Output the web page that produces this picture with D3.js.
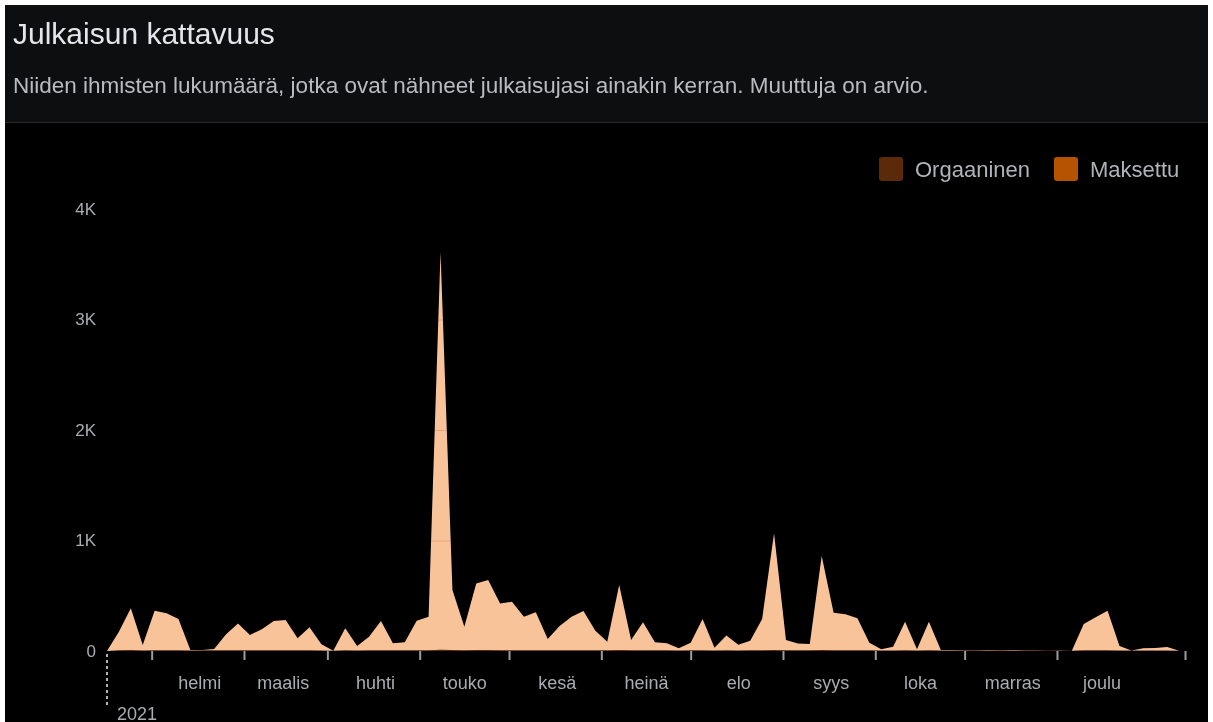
<!DOCTYPE html>
<html>
<head>
<meta charset="utf-8">
<script src="https://cdn.jsdelivr.net/npm/d3@7"></script>
<style>
  html, body { margin: 0; padding: 0; background: #fff; }
  svg { display: block; font-family: "Liberation Sans", Arial, sans-serif; }
</style>
</head>
<body>
<div id="chart"></div>
<script>
// data (4-day buckets through 2021)
var startDate = new Date(2021, 0, 1);
var endDate = new Date(2021, 11, 29);

var organic = [0,6,8,5,7,6,6,5,6,6,6,7,6,6,7,7,6,6,5,3,
  6,5,6,7,6,6,7,7,12,8,6,8,8,7,7,6,7,6,6,7,
  7,6,6,8,6,6,6,6,5,6,6,5,6,5,6,6,9,6,6,6,
  8,7,7,6,6,5,5,6,5,6,5,5,4,5,5,6,5,5,4,4,
  3,3,6,6,7,5,4,5,5,5,3];

var paid = [0,169,378,49,358,335,284,4,4,12,145,243,139,190,264,274,109,208,55,0,
  199,40,124,264,64,73,267,303,3598,544,214,602,635,423,438,304,343,103,220,303,
  355,178,78,589,94,254,73,64,19,69,284,25,134,52,87,284,1057,94,62,57,
  852,340,325,290,69,10,34,259,10,259,4,3,2,2,4,4,4,2,2,1,
  1,0,238,299,358,40,1,19,23,31,0];

var monthNames = ["tammi", "helmi", "maalis", "huhti", "touko", "kesä",
  "heinä", "elo", "syys", "loka", "marras", "joulu"];
var yTicks = [0, 1000, 2000, 3000, 4000];
var yTickLabels = ["0", "1K", "2K", "3K", "4K"];
var seriesNames = ["Orgaaninen", "Maksettu"];
var seriesColors = ["#5b2a0b", "#b65300"];

var svgW = 1213;
var svgH = 722;

var svg = d3.select("#chart").append("svg")
  .attr("width", svgW)
  .attr("height", svgH);

// header panel
svg.append("rect").attr("x", 5).attr("y", 5).attr("width", 1203).attr("height", 717).attr("fill", "#000");
svg.append("rect").attr("x", 5).attr("y", 5).attr("width", 1203).attr("height", 117).attr("fill", "#0d0e10");
svg.append("rect").attr("x", 5).attr("y", 122).attr("width", 1203).attr("height", 1).attr("fill", "#26272a");

svg.append("text")
  .attr("x", 13).attr("y", 44)
  .attr("fill", "#e4e6eb")
  .style("font-size", "30px")
  .text("Julkaisun kattavuus");

svg.append("text")
  .attr("x", 13).attr("y", 93)
  .attr("fill", "#b8bbbf")
  .style("font-size", "22.5px")
  .text("Niiden ihmisten lukumäärä, jotka ovat nähneet julkaisujasi ainakin kerran. Muuttuja on arvio.");

// scales
var x = d3.scaleTime().domain([startDate, endDate]).range([107, 1185]);
var y = d3.scaleLinear().domain([0, 4000]).range([651, 209]);

var dates = d3.timeDay.range(startDate, d3.timeDay.offset(startDate, 4 * paid.length), 4);
var table = dates.map(function(d, i) {
  return { date: d, organic: organic[i], paid: paid[i] };
});
var stacked = d3.stack().keys(["organic", "paid"])(table);

var area = d3.area()
  .x(function(d) { return x(d.data.date); })
  .y0(function(d) { return y(d[0]); })
  .y1(function(d) { return y(d[1]); });

svg.append("g").selectAll("path")
  .data(stacked)
  .enter()
  .append("path")
  .attr("d", area)
  .attr("fill", function(d, i) { return i == 0 ? seriesColors[0] : "#f9c39a"; });

// gridlines, only show where they cross the area
svg.append("g").selectAll("line")
  .data(yTicks.slice(1))
  .enter()
  .append("line")
  .attr("x1", 107).attr("x2", 1185)
  .attr("y1", function(d) { return y(d) + 0.5; })
  .attr("y2", function(d) { return y(d) + 0.5; })
  .attr("stroke", "#f2dcc0")
  .style("mix-blend-mode", "multiply");

// y axis
var leftAxis = d3.axisLeft(y)
  .tickValues(yTicks)
  .tickFormat(function(d, i) { return yTickLabels[i]; })
  .tickSize(0)
  .tickPadding(11);
var yG = svg.append("g").attr("transform", "translate(107,0)").call(leftAxis);
yG.select(".domain").remove();
yG.selectAll("text").attr("fill", "#a9acb0").style("font-size", "17px").style("font-family", "inherit");

// x axis ticks at mid-month
var tickDates = d3.range(0, 11).map(function(m) { return new Date(2021, m, 16); });
tickDates.push(endDate);
var bottomAxis = d3.axisBottom(x).tickValues(tickDates).tickSize(9).tickFormat("");
var xG = svg.append("g").attr("transform", "translate(0,651)").call(bottomAxis);
xG.select(".domain").remove();
xG.selectAll("line").attr("stroke", "#9a9da1").attr("stroke-width", 2);

// month labels at month starts
var labelDates = d3.range(1, 12).map(function(m) { return new Date(2021, m, 1); });
var labelAxis = d3.axisBottom(x).tickValues(labelDates).tickSize(0).tickPadding(0)
  .tickFormat(function(d) { return monthNames[d.getMonth()]; });
var lG = svg.append("g").attr("transform", "translate(0,676)").call(labelAxis);
lG.select(".domain").remove();
lG.selectAll("text").attr("fill", "#a9acb0").style("font-size", "18px").style("font-family", "inherit");

// year marker
svg.append("line")
  .attr("x1", x(startDate)).attr("x2", x(startDate))
  .attr("y1", 654).attr("y2", 705)
  .attr("stroke", "#b0b3b7").attr("stroke-width", 2)
  .attr("stroke-dasharray", "3,3");
svg.append("text")
  .attr("x", x(startDate) + 10).attr("y", 720)
  .attr("fill", "#a9acb0")
  .style("font-size", "18px")
  .text("2021");

// legend
var legendX = [879, 1054];
var legend = svg.append("g").selectAll("g")
  .data(seriesNames)
  .enter()
  .append("g")
  .attr("transform", function(d, i) { return "translate(" + legendX[i] + ",157)"; });
legend.append("rect")
  .attr("width", 24).attr("height", 24).attr("rx", 3)
  .attr("fill", function(d, i) { return seriesColors[i]; });
legend.append("text")
  .attr("x", 36).attr("y", 20)
  .attr("fill", "#b0b3b8")
  .style("font-size", "22px")
  .text(function(d) { return d; });
</script>
</body>
</html>
